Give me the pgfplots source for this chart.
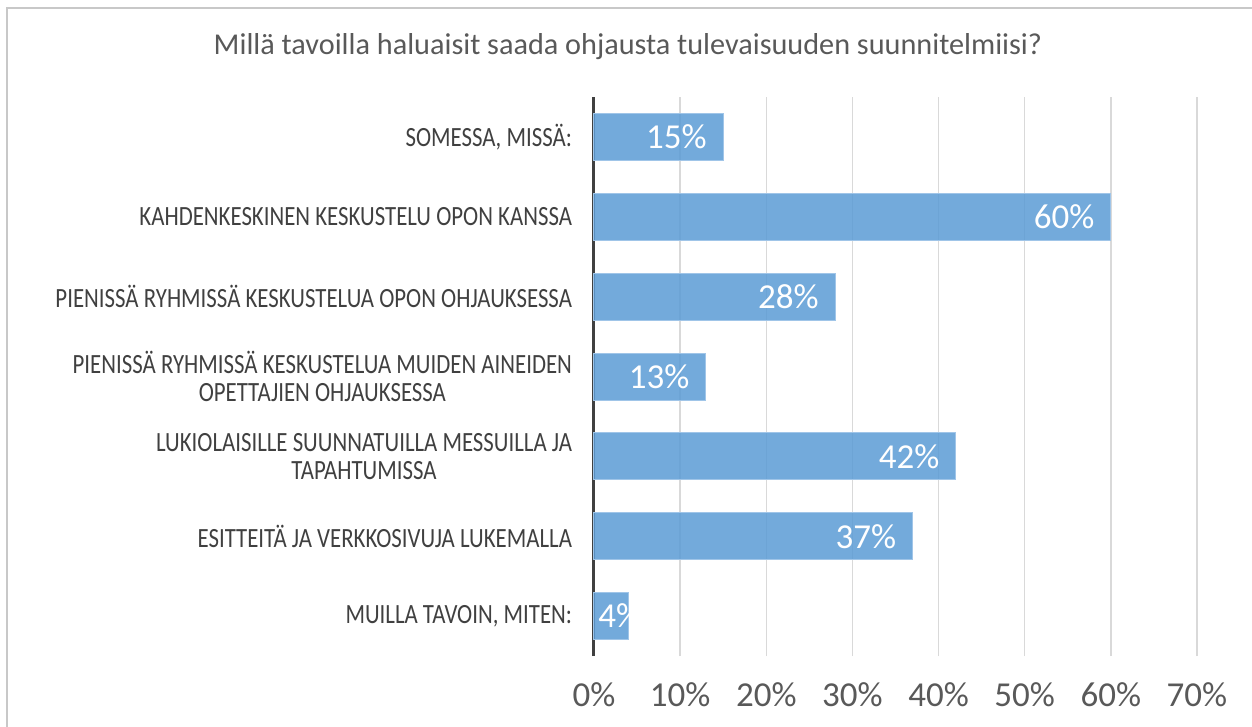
\documentclass[border=0pt]{standalone}
\usepackage{pgfplots}
\pgfplotsset{compat=1.18}
\usepackage{fontspec}
\setmainfont{Carlito}
\newfontfamily\condfont[FakeStretch=0.82]{Carlito}
\definecolor{barblue}{RGB}{91,155,213}
\definecolor{baredge}{RGB}{160,197,232}
\definecolor{txtgray}{RGB}{89,89,89}
\definecolor{lblgray}{RGB}{64,64,64}
\definecolor{gridgray}{RGB}{217,217,217}
\definecolor{framegray}{RGB}{200,200,200}
\begin{document}
\begin{tikzpicture}[x=0.6pt,y=0.6pt]
\useasboundingbox (0,0) rectangle (1252,726);
\clip (0,0) rectangle (1252,726);
\draw[framegray, line width=1.2pt] (7,-20) -- (7,718) -- (1280,718);
\node[txtgray, font=\fontsize{18.15}{22}\selectfont, inner sep=0pt] at (628,679) {Millä tavoilla haluaisit saada ohjausta tulevaisuuden suunnitelmiisi?};
\begin{axis}[
  at={(356.4pt,42pt)}, anchor=south west,
  scale only axis, width=361.8pt, height=335.4pt,
  xmin=0, xmax=70, ymin=-0.5, ymax=6.5,
  xbar, bar width=28.2pt,
  /pgf/number format/assume math mode=true,
  axis y line*=left, axis x line*=bottom,
  x axis line style={draw=none},
  y axis line style={lblgray, line width=1.8pt},
  xtick={0,10,...,70},
  xticklabels={0\%,10\%,20\%,30\%,40\%,50\%,60\%,70\%},
  ytick={0,...,6},
  yticklabels={
    {MUILLA TAVOIN, MITEN:},
    {ESITTEITÄ JA VERKKOSIVUJA LUKEMALLA},
    {LUKIOLAISILLE SUUNNATUILLA MESSUILLA JA\\TAPAHTUMISSA},
    {PIENISSÄ RYHMISSÄ KESKUSTELUA MUIDEN AINEIDEN\\OPETTAJIEN OHJAUKSESSA},
    {PIENISSÄ RYHMISSÄ KESKUSTELUA OPON OHJAUKSESSA},
    {KAHDENKESKINEN KESKUSTELU OPON KANSSA},
    {SOMESSA, MISSÄ:}},
  major tick length=0pt,
  xmajorgrids, grid style={gridgray, line width=0.9pt},
  xticklabel style={txtgray, font=\fontsize{21}{24}\selectfont, inner sep=0pt, anchor=north, yshift=-16pt},
  yticklabel style={lblgray, font=\condfont\fontsize{16.7}{16.8}\selectfont, align=center, inner sep=0pt, anchor=east, xshift=-13pt},
  clip=false,
]
\addplot[fill=barblue, fill opacity=0.85, draw=baredge, line width=0.6pt, bar shift=0pt,
  point meta=x,
  nodes near coords={\pgfmathprintnumber{\pgfplotspointmeta}\%},
  every node near coord/.append style={white, fill opacity=1, text opacity=1, inner sep=0pt, anchor=east, xshift=-9.6pt, font=\fontsize{21}{24}\selectfont}]
  coordinates {(37,1) (42,2) (13,3) (28,4) (60,5) (15,6)};
\addplot[fill=barblue, fill opacity=0.85, draw=baredge, line width=0.6pt, bar shift=0pt,
  point meta=x,
  nodes near coords={\pgfmathprintnumber{\pgfplotspointmeta}\%},
  every node near coord/.append style={white, fill opacity=1, text opacity=1, inner sep=0pt, anchor=west, xshift=-18.3pt, font=\fontsize{21}{24}\selectfont}]
  coordinates {(4,0)};
\end{axis}
\end{tikzpicture}
\end{document}
